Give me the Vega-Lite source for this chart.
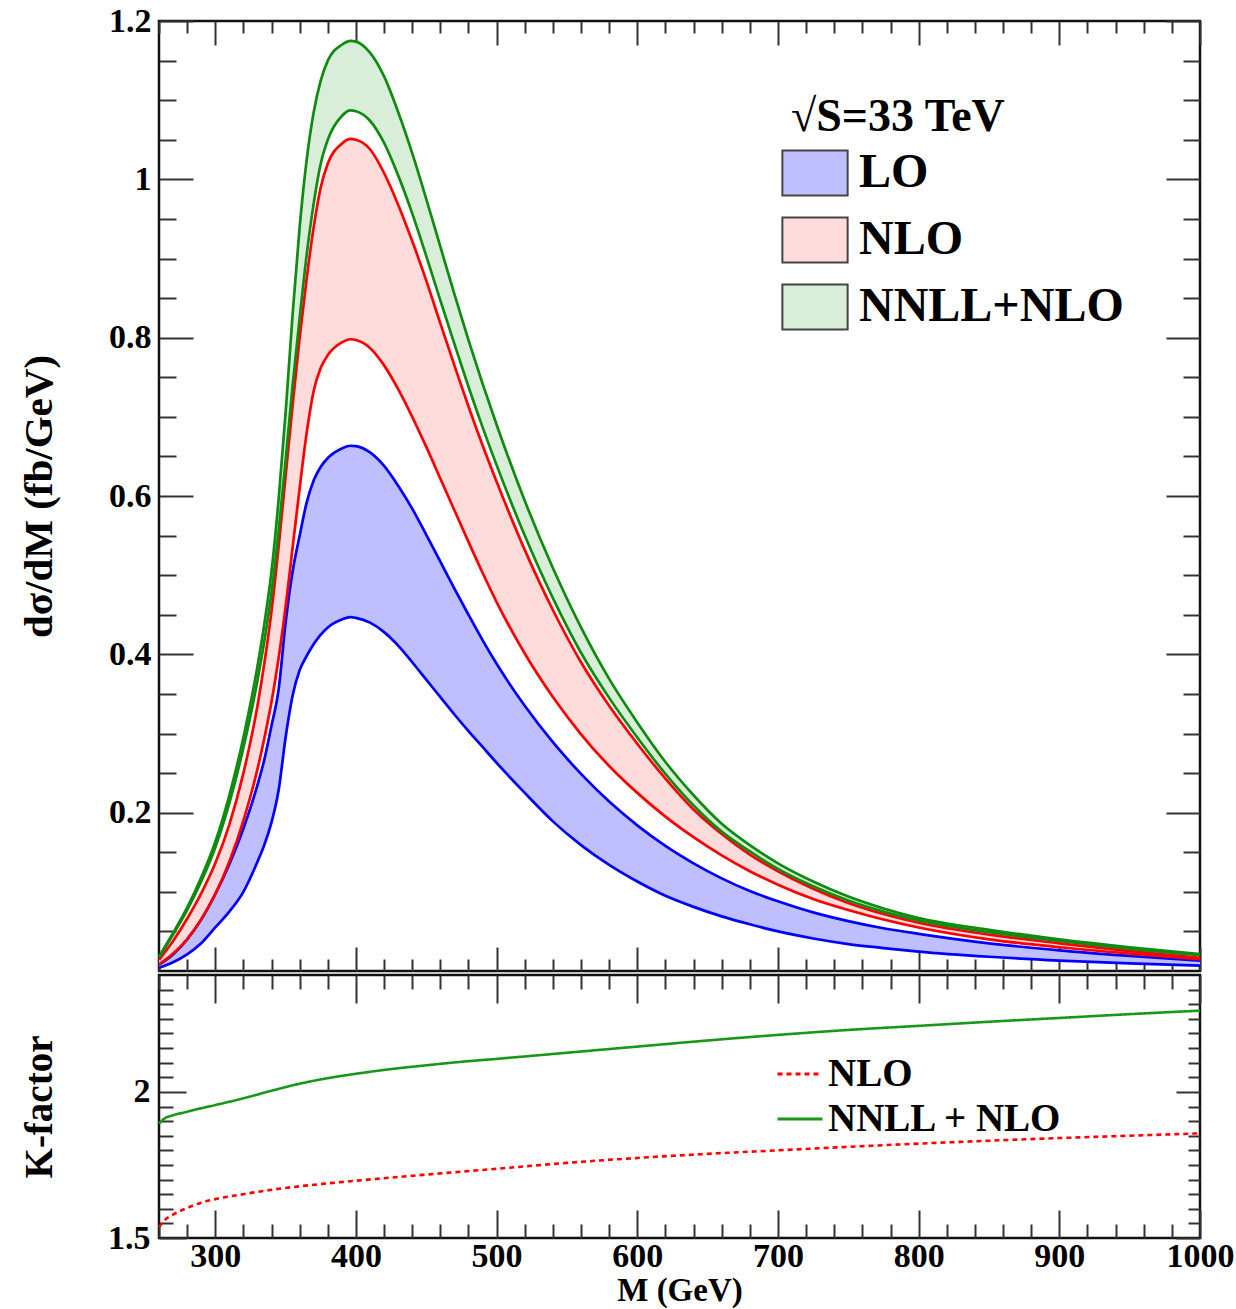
{
"$schema": "https://vega.github.io/schema/vega-lite/v6.json",
"background": "white",
"padding": {"left": 17, "top": 2, "right": 34, "bottom": 0},
"spacing": -4,
"config": {
  "font": "Liberation Serif",
  "view": {"stroke": "#111", "strokeWidth": 2.5},
  "axis": {"labelFont": "Liberation Serif", "labelFontWeight": "bold", "labelFontSize": 34, "labelColor": "black",
           "titleFont": "Liberation Serif", "titleFontWeight": "bold", "titleColor": "black",
           "grid": false, "domain": false, "tickColor": "#333", "tickWidth": 2, "labelFlush": false, "labelOverlap": false},
  "legend": {"labelFont": "Liberation Serif", "titleFont": "Liberation Serif", "labelFontWeight": "bold", "titleFontWeight": "bold", "labelColor": "black", "titleColor": "black", "labelLimit": 0, "titleLimit": 0}
},
"resolve": {"scale": {"stroke": "independent", "strokeDash": "independent", "fill": "independent"},
            "legend": {"stroke": "independent", "strokeDash": "independent", "fill": "independent"}},
"datasets": {
"bands": [
{"M":260,"b":"LO","lo":0.004,"hi":0.008},{"M":270,"b":"LO","lo":0.011,"hi":0.021},{"M":280,"b":"LO","lo":0.021,"hi":0.04},{"M":290,"b":"LO","lo":0.035,"hi":0.065},{"M":300,"b":"LO","lo":0.055,"hi":0.097},{"M":310,"b":"LO","lo":0.075,"hi":0.135},{"M":320,"b":"LO","lo":0.10,"hi":0.18},{"M":330,"b":"LO","lo":0.138,"hi":0.235},{"M":335,"b":"LO","lo":0.16,"hi":0.268},{"M":340,"b":"LO","lo":0.188,"hi":0.31},{"M":345,"b":"LO","lo":0.228,"hi":0.355},{"M":350,"b":"LO","lo":0.295,"hi":0.44},{"M":355,"b":"LO","lo":0.348,"hi":0.505},{"M":360,"b":"LO","lo":0.38,"hi":0.55},{"M":365,"b":"LO","lo":0.398,"hi":0.592},{"M":370,"b":"LO","lo":0.413,"hi":0.62},{"M":375,"b":"LO","lo":0.425,"hi":0.637},{"M":380,"b":"LO","lo":0.434,"hi":0.648},{"M":390,"b":"LO","lo":0.444,"hi":0.66},{"M":396,"b":"LO","lo":0.447,"hi":0.6635},{"M":400,"b":"LO","lo":0.446,"hi":0.663},{"M":410,"b":"LO","lo":0.44,"hi":0.655},{"M":420,"b":"LO","lo":0.428,"hi":0.638},{"M":430,"b":"LO","lo":0.411,"hi":0.613},{"M":440,"b":"LO","lo":0.39,"hi":0.584},{"M":450,"b":"LO","lo":0.368,"hi":0.551},{"M":460,"b":"LO","lo":0.346,"hi":0.517},{"M":470,"b":"LO","lo":0.324,"hi":0.483},{"M":480,"b":"LO","lo":0.303,"hi":0.45},{"M":490,"b":"LO","lo":0.283,"hi":0.418},{"M":500,"b":"LO","lo":0.263,"hi":0.388},{"M":520,"b":"LO","lo":0.225,"hi":0.335},{"M":540,"b":"LO","lo":0.189,"hi":0.289},{"M":560,"b":"LO","lo":0.159,"hi":0.249},{"M":580,"b":"LO","lo":0.134,"hi":0.214},{"M":600,"b":"LO","lo":0.113,"hi":0.184},{"M":620,"b":"LO","lo":0.095,"hi":0.158},{"M":640,"b":"LO","lo":0.081,"hi":0.136},{"M":660,"b":"LO","lo":0.069,"hi":0.117},{"M":680,"b":"LO","lo":0.059,"hi":0.101},{"M":700,"b":"LO","lo":0.05,"hi":0.088},{"M":725,"b":"LO","lo":0.041,"hi":0.074},{"M":750,"b":"LO","lo":0.034,"hi":0.063},{"M":775,"b":"LO","lo":0.029,"hi":0.054},{"M":800,"b":"LO","lo":0.0245,"hi":0.047},{"M":850,"b":"LO","lo":0.018,"hi":0.035},{"M":900,"b":"LO","lo":0.0132,"hi":0.026},{"M":950,"b":"LO","lo":0.0096,"hi":0.019},{"M":1000,"b":"LO","lo":0.0068,"hi":0.013},
{"M":260,"b":"NLO","lo":0.008,"hi":0.014},{"M":270,"b":"NLO","lo":0.022,"hi":0.038},{"M":280,"b":"NLO","lo":0.04,"hi":0.066},{"M":290,"b":"NLO","lo":0.065,"hi":0.098},{"M":300,"b":"NLO","lo":0.097,"hi":0.136},{"M":310,"b":"NLO","lo":0.138,"hi":0.185},{"M":320,"b":"NLO","lo":0.19,"hi":0.25},{"M":330,"b":"NLO","lo":0.255,"hi":0.335},{"M":335,"b":"NLO","lo":0.295,"hi":0.39},{"M":340,"b":"NLO","lo":0.34,"hi":0.455},{"M":345,"b":"NLO","lo":0.395,"hi":0.535},{"M":350,"b":"NLO","lo":0.46,"hi":0.625},{"M":355,"b":"NLO","lo":0.535,"hi":0.715},{"M":360,"b":"NLO","lo":0.61,"hi":0.80},{"M":365,"b":"NLO","lo":0.68,"hi":0.875},{"M":370,"b":"NLO","lo":0.733,"hi":0.94},{"M":375,"b":"NLO","lo":0.762,"hi":0.99},{"M":380,"b":"NLO","lo":0.778,"hi":1.02},{"M":390,"b":"NLO","lo":0.794,"hi":1.045},{"M":396,"b":"NLO","lo":0.798,"hi":1.051},{"M":400,"b":"NLO","lo":0.797,"hi":1.05},{"M":410,"b":"NLO","lo":0.787,"hi":1.038},{"M":420,"b":"NLO","lo":0.765,"hi":1.008},{"M":430,"b":"NLO","lo":0.735,"hi":0.968},{"M":440,"b":"NLO","lo":0.70,"hi":0.922},{"M":450,"b":"NLO","lo":0.662,"hi":0.872},{"M":460,"b":"NLO","lo":0.622,"hi":0.818},{"M":470,"b":"NLO","lo":0.582,"hi":0.765},{"M":480,"b":"NLO","lo":0.542,"hi":0.713},{"M":490,"b":"NLO","lo":0.503,"hi":0.664},{"M":500,"b":"NLO","lo":0.466,"hi":0.618},{"M":520,"b":"NLO","lo":0.401,"hi":0.532},{"M":540,"b":"NLO","lo":0.346,"hi":0.456},{"M":560,"b":"NLO","lo":0.299,"hi":0.39},{"M":580,"b":"NLO","lo":0.259,"hi":0.335},{"M":600,"b":"NLO","lo":0.225,"hi":0.287},{"M":620,"b":"NLO","lo":0.195,"hi":0.243},{"M":640,"b":"NLO","lo":0.169,"hi":0.204},{"M":660,"b":"NLO","lo":0.146,"hi":0.173},{"M":680,"b":"NLO","lo":0.126,"hi":0.147},{"M":700,"b":"NLO","lo":0.109,"hi":0.126},{"M":725,"b":"NLO","lo":0.091,"hi":0.104},{"M":750,"b":"NLO","lo":0.077,"hi":0.086},{"M":775,"b":"NLO","lo":0.065,"hi":0.072},{"M":800,"b":"NLO","lo":0.055,"hi":0.061},{"M":850,"b":"NLO","lo":0.04,"hi":0.046},{"M":900,"b":"NLO","lo":0.03,"hi":0.035},{"M":950,"b":"NLO","lo":0.022,"hi":0.025},{"M":1000,"b":"NLO","lo":0.015,"hi":0.0165},
{"M":260,"b":"NNLL+NLO","lo":0.017,"hi":0.018},{"M":270,"b":"NNLL+NLO","lo":0.046,"hi":0.048},{"M":280,"b":"NNLL+NLO","lo":0.077,"hi":0.08},{"M":290,"b":"NNLL+NLO","lo":0.113,"hi":0.118},{"M":300,"b":"NNLL+NLO","lo":0.156,"hi":0.163},{"M":310,"b":"NNLL+NLO","lo":0.212,"hi":0.222},{"M":320,"b":"NNLL+NLO","lo":0.282,"hi":0.295},{"M":330,"b":"NNLL+NLO","lo":0.367,"hi":0.385},{"M":335,"b":"NNLL+NLO","lo":0.418,"hi":0.44},{"M":340,"b":"NNLL+NLO","lo":0.478,"hi":0.505},{"M":345,"b":"NNLL+NLO","lo":0.555,"hi":0.595},{"M":350,"b":"NNLL+NLO","lo":0.645,"hi":0.705},{"M":355,"b":"NNLL+NLO","lo":0.74,"hi":0.83},{"M":360,"b":"NNLL+NLO","lo":0.825,"hi":0.94},{"M":365,"b":"NNLL+NLO","lo":0.905,"hi":1.025},{"M":370,"b":"NNLL+NLO","lo":0.97,"hi":1.085},{"M":375,"b":"NNLL+NLO","lo":1.02,"hi":1.125},{"M":380,"b":"NNLL+NLO","lo":1.05,"hi":1.15},{"M":390,"b":"NNLL+NLO","lo":1.08,"hi":1.17},{"M":396,"b":"NNLL+NLO","lo":1.087,"hi":1.175},{"M":400,"b":"NNLL+NLO","lo":1.086,"hi":1.174},{"M":410,"b":"NNLL+NLO","lo":1.074,"hi":1.16},{"M":420,"b":"NNLL+NLO","lo":1.046,"hi":1.13},{"M":430,"b":"NNLL+NLO","lo":1.005,"hi":1.085},{"M":440,"b":"NNLL+NLO","lo":0.957,"hi":1.033},{"M":450,"b":"NNLL+NLO","lo":0.903,"hi":0.975},{"M":460,"b":"NNLL+NLO","lo":0.847,"hi":0.915},{"M":470,"b":"NNLL+NLO","lo":0.792,"hi":0.855},{"M":480,"b":"NNLL+NLO","lo":0.738,"hi":0.797},{"M":490,"b":"NNLL+NLO","lo":0.687,"hi":0.742},{"M":500,"b":"NNLL+NLO","lo":0.639,"hi":0.69},{"M":520,"b":"NNLL+NLO","lo":0.55,"hi":0.594},{"M":540,"b":"NNLL+NLO","lo":0.471,"hi":0.509},{"M":560,"b":"NNLL+NLO","lo":0.402,"hi":0.434},{"M":580,"b":"NNLL+NLO","lo":0.345,"hi":0.369},{"M":600,"b":"NNLL+NLO","lo":0.295,"hi":0.314},{"M":620,"b":"NNLL+NLO","lo":0.249,"hi":0.264},{"M":640,"b":"NNLL+NLO","lo":0.209,"hi":0.222},{"M":660,"b":"NNLL+NLO","lo":0.176,"hi":0.186},{"M":680,"b":"NNLL+NLO","lo":0.151,"hi":0.159},{"M":700,"b":"NNLL+NLO","lo":0.129,"hi":0.136},{"M":725,"b":"NNLL+NLO","lo":0.107,"hi":0.113},{"M":750,"b":"NNLL+NLO","lo":0.089,"hi":0.094},{"M":775,"b":"NNLL+NLO","lo":0.075,"hi":0.079},{"M":800,"b":"NNLL+NLO","lo":0.064,"hi":0.067},{"M":850,"b":"NNLL+NLO","lo":0.049,"hi":0.052},{"M":900,"b":"NNLL+NLO","lo":0.038,"hi":0.04},{"M":950,"b":"NNLL+NLO","lo":0.028,"hi":0.03},{"M":1000,"b":"NNLL+NLO","lo":0.02,"hi":0.0215}
],
"kf": [
{"M":260,"s":"NLO","K":1.537},{"M":265,"s":"NLO","K":1.565},{"M":270,"s":"NLO","K":1.58},{"M":280,"s":"NLO","K":1.603},{"M":290,"s":"NLO","K":1.621},{"M":300,"s":"NLO","K":1.633},{"M":320,"s":"NLO","K":1.65},{"M":340,"s":"NLO","K":1.665},{"M":360,"s":"NLO","K":1.677},{"M":380,"s":"NLO","K":1.687},{"M":400,"s":"NLO","K":1.696},{"M":450,"s":"NLO","K":1.717},{"M":500,"s":"NLO","K":1.737},{"M":550,"s":"NLO","K":1.757},{"M":600,"s":"NLO","K":1.774},{"M":650,"s":"NLO","K":1.788},{"M":700,"s":"NLO","K":1.80},{"M":750,"s":"NLO","K":1.812},{"M":800,"s":"NLO","K":1.823},{"M":850,"s":"NLO","K":1.833},{"M":900,"s":"NLO","K":1.842},{"M":950,"s":"NLO","K":1.85},{"M":1000,"s":"NLO","K":1.858},
{"M":260,"s":"NNLL + NLO","K":1.892},{"M":265,"s":"NNLL + NLO","K":1.912},{"M":270,"s":"NNLL + NLO","K":1.92},{"M":280,"s":"NNLL + NLO","K":1.932},{"M":290,"s":"NNLL + NLO","K":1.944},{"M":300,"s":"NNLL + NLO","K":1.955},{"M":320,"s":"NNLL + NLO","K":1.978},{"M":340,"s":"NNLL + NLO","K":2.004},{"M":360,"s":"NNLL + NLO","K":2.028},{"M":380,"s":"NNLL + NLO","K":2.047},{"M":400,"s":"NNLL + NLO","K":2.062},{"M":425,"s":"NNLL + NLO","K":2.078},{"M":450,"s":"NNLL + NLO","K":2.091},{"M":475,"s":"NNLL + NLO","K":2.103},{"M":500,"s":"NNLL + NLO","K":2.113},{"M":550,"s":"NNLL + NLO","K":2.134},{"M":600,"s":"NNLL + NLO","K":2.155},{"M":650,"s":"NNLL + NLO","K":2.176},{"M":700,"s":"NNLL + NLO","K":2.195},{"M":750,"s":"NNLL + NLO","K":2.212},{"M":800,"s":"NNLL + NLO","K":2.226},{"M":850,"s":"NNLL + NLO","K":2.24},{"M":900,"s":"NNLL + NLO","K":2.253},{"M":950,"s":"NNLL + NLO","K":2.266},{"M":1000,"s":"NNLL + NLO","K":2.278}
]
},
"vconcat": [
{
  "width": 1041, "height": 950,
  "data": {"name": "bands"},
  "layer": [
    {
      "mark": {"type": "area", "interpolate": "monotone"},
      "encoding": {
        "x": {"field": "M", "type": "quantitative", "scale": {"domain": [260, 1000], "nice": false, "zero": false},
              "axis": {"orient": "bottom", "title": null, "labels": false, "minExtent": 0,
                       "values": [260,280,300,320,340,360,380,400,420,440,460,480,500,520,540,560,580,600,620,640,660,680,700,720,740,760,780,800,820,840,860,880,900,920,940,960,980,1000],
                       "tickSize": {"condition": {"test": "datum.value % 100 === 0", "value": -24}, "value": -12}}},
        "y": {"field": "lo", "type": "quantitative", "scale": {"domain": [0, 1.2], "nice": false, "zero": false},
              "axis": {"orient": "left", "title": "dσ/dM (fb/GeV)", "titleFontSize": 41, "titlePadding": 48,
                       "values": [0.05,0.1,0.15,0.2,0.25,0.3,0.35,0.4,0.45,0.5,0.55,0.6,0.65,0.7,0.75,0.8,0.85,0.9,0.95,1,1.05,1.1,1.15,1.2],
                       "labelExpr": "abs(datum.value*5-round(datum.value*5))<0.001 ? format(datum.value, '.1~f') : ''",
                       "labelPadding": 42,
                       "tickSize": {"condition": {"test": "abs(datum.value*5-round(datum.value*5))<0.001", "value": -34}, "value": -17}}},
        "y2": {"field": "hi"},
        "fill": {"field": "b", "type": "nominal",
                 "scale": {"domain": ["LO", "NLO", "NNLL+NLO"], "range": ["#bfbfff", "#ffdcdc", "#d9eed9"]},
                 "legend": {"orient": "none", "legendX": 632, "legendY": 74, "title": "√S=33 TeV", "titleFontSize": 46, "titlePadding": 8,
                            "labelFontSize": 48, "labelOffset": 20, "rowPadding": 13,
                            "symbolType": "M-1.45,-1H1.45V1H-1.45Z", "symbolSize": 2025, "symbolStrokeColor": "#444", "symbolStrokeWidth": 2}}
      }
    },
    {
      "transform": [{"filter": "datum.b === 'LO'"}, {"fold": ["lo", "hi"], "as": ["edge", "v"]}],
      "mark": {"type": "line", "interpolate": "monotone", "strokeWidth": 2.7, "stroke": "#0000ff"},
      "encoding": {
        "x": {"field": "M", "type": "quantitative",
              "axis": {"orient": "top", "title": null, "labels": false, "minExtent": 0,
                       "values": [260,280,300,320,340,360,380,400,420,440,460,480,500,520,540,560,580,600,620,640,660,680,700,720,740,760,780,800,820,840,860,880,900,920,940,960,980,1000],
                       "tickSize": {"condition": {"test": "datum.value % 100 === 0", "value": -24}, "value": -12}}},
        "y": {"field": "v", "type": "quantitative",
              "axis": {"orient": "right", "title": null, "labels": false,
                       "values": [0.05,0.1,0.15,0.2,0.25,0.3,0.35,0.4,0.45,0.5,0.55,0.6,0.65,0.7,0.75,0.8,0.85,0.9,0.95,1,1.05,1.1,1.15,1.2],
                       "tickSize": {"condition": {"test": "abs(datum.value*5-round(datum.value*5))<0.001", "value": -34}, "value": -17}}},
        "detail": {"field": "edge"}
      }
    },
    {
      "transform": [{"filter": "datum.b === 'NLO'"}, {"fold": ["lo", "hi"], "as": ["edge", "v"]}],
      "mark": {"type": "line", "interpolate": "monotone", "strokeWidth": 2.7, "stroke": "#ff0000"},
      "encoding": {
        "x": {"field": "M", "type": "quantitative", "axis": null},
        "y": {"field": "v", "type": "quantitative", "axis": null},
        "detail": {"field": "edge"}
      }
    },
    {
      "transform": [{"filter": "datum.b === 'NNLL+NLO'"}, {"fold": ["lo", "hi"], "as": ["edge", "v"]}],
      "mark": {"type": "line", "interpolate": "monotone", "strokeWidth": 2.7, "stroke": "#108a10"},
      "encoding": {
        "x": {"field": "M", "type": "quantitative", "axis": null},
        "y": {"field": "v", "type": "quantitative", "axis": null},
        "detail": {"field": "edge"}
      }
    }
  ],
  "resolve": {"axis": {"x": "independent", "y": "independent"}}
},
{
  "width": 1041, "height": 263,
  "data": {"name": "kf"},
  "layer": [
    {
      "mark": {"type": "line", "interpolate": "monotone", "strokeWidth": 2.6},
      "encoding": {
        "x": {"field": "M", "type": "quantitative", "scale": {"domain": [260, 1000], "nice": false, "zero": false},
              "axis": {"orient": "bottom", "title": "M (GeV)", "titleFontSize": 33, "titlePadding": -13,
                       "values": [260,280,300,320,340,360,380,400,420,440,460,480,500,520,540,560,580,600,620,640,660,680,700,720,740,760,780,800,820,840,860,880,900,920,940,960,980,1000],
                       "labelExpr": "datum.value % 100 === 0 ? format(datum.value, 'd') : ''",
                       "labelPadding": 29,
                       "tickSize": {"condition": {"test": "datum.value % 100 === 0", "value": -28}, "value": -14}}},
        "y": {"field": "K", "type": "quantitative", "scale": {"domain": [1.5, 2.4], "nice": false, "zero": false},
              "axis": {"orient": "left", "title": "K-factor", "titleFontSize": 39, "titlePadding": 48,
                       "values": [1.5,1.55,1.6,1.65,1.7,1.75,1.8,1.85,1.9,1.95,2,2.05,2.1,2.15,2.2,2.25,2.3,2.35],
                       "labelExpr": "abs(datum.value*2-round(datum.value*2))<0.001 ? format(datum.value, '.1~f') : ''",
                       "labelPadding": 36,
                       "tickSize": {"condition": {"test": "abs(datum.value*2-round(datum.value*2))<0.001", "value": -27}, "value": -14}}},
        "stroke": {"field": "s", "type": "nominal", "scale": {"domain": ["NLO", "NNLL + NLO"], "range": ["#ff0000", "#1a961a"]},
                   "legend": {"orient": "none", "legendX": 617, "legendY": 75, "title": null, "labelFontSize": 39, "labelOffset": 4, "rowPadding": 1,
                              "symbolType": "stroke", "symbolSize": 2025, "symbolStrokeWidth": 3}},
        "strokeDash": {"field": "s", "type": "nominal", "scale": {"domain": ["NLO", "NNLL + NLO"], "range": [[5, 4], [1, 0]]},
                   "legend": {"orient": "none", "legendX": 617, "legendY": 75, "title": null, "labelFontSize": 39, "labelOffset": 4, "rowPadding": 1,
                              "symbolType": "stroke", "symbolSize": 2025, "symbolStrokeWidth": 3}}
      }
    },
    {
      "mark": {"type": "line", "opacity": 0},
      "encoding": {
        "x": {"field": "M", "type": "quantitative",
              "axis": {"orient": "top", "title": null, "labels": false, "minExtent": 0,
                       "values": [260,280,300,320,340,360,380,400,420,440,460,480,500,520,540,560,580,600,620,640,660,680,700,720,740,760,780,800,820,840,860,880,900,920,940,960,980,1000],
                       "tickSize": {"condition": {"test": "datum.value % 100 === 0", "value": -28}, "value": -14}}},
        "y": {"field": "K", "type": "quantitative",
              "axis": {"orient": "right", "title": null, "labels": false,
                       "values": [1.5,1.55,1.6,1.65,1.7,1.75,1.8,1.85,1.9,1.95,2,2.05,2.1,2.15,2.2,2.25,2.3,2.35],
                       "tickSize": {"condition": {"test": "abs(datum.value*2-round(datum.value*2))<0.001", "value": -24}, "value": -12}}},
        "detail": {"field": "s"}
      }
    }
  ],
  "resolve": {"axis": {"x": "independent", "y": "independent"}}
}
]
}
